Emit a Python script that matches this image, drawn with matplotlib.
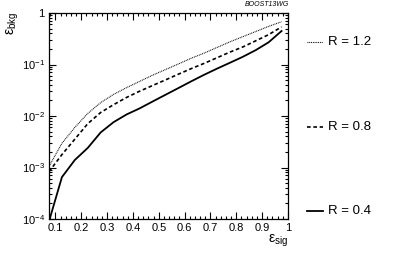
import matplotlib
matplotlib.use('Agg')
import matplotlib.pyplot as plt
import numpy as np
from matplotlib.ticker import MultipleLocator, LogLocator, FixedLocator, FuncFormatter

plt.rcParams['font.family'] = ['Liberation Sans', 'DejaVu Sans']
plt.rcParams['mathtext.fontset'] = 'custom'
plt.rcParams['mathtext.rm'] = 'Liberation Sans'
plt.rcParams['mathtext.it'] = 'Liberation Sans:italic'

# signal efficiency points
eff_sig = [0.075, 0.125, 0.175, 0.225, 0.275, 0.325, 0.375, 0.425, 0.475, 0.525,
           0.575, 0.625, 0.675, 0.725, 0.775, 0.825, 0.875, 0.925, 0.975]

# background efficiency
bkg_r04 = [9.0e-5, 6.5e-4, 1.4e-3, 2.4e-3, 4.8e-3, 7.6e-3, 1.07e-2, 1.4e-2, 1.9e-2, 2.57e-2,
           3.47e-2, 4.7e-2, 6.3e-2, 8.3e-2, 0.108, 0.141, 0.19, 0.27, 0.447]
bkg_r08 = [8.3e-4, 1.78e-3, 3.55e-3, 7.1e-3, 1.17e-2, 1.66e-2, 2.29e-2, 3.02e-2, 3.89e-2, 5.0e-2,
           6.46e-2, 8.3e-2, 0.105, 0.135, 0.174, 0.219, 0.288, 0.38, 0.537]
bkg_r12 = [1.05e-3, 2.95e-3, 6.0e-3, 1.12e-2, 1.82e-2, 2.63e-2, 3.55e-2, 4.68e-2, 6.17e-2, 7.94e-2,
           0.102, 0.132, 0.166, 0.214, 0.275, 0.347, 0.437, 0.55, 0.676]

labels = ['R = 1.2', 'R = 0.8', 'R = 0.4']

fig = plt.figure(figsize=(3.99, 2.54), dpi=100)
ax = fig.add_axes([0.1228, 0.1378, 0.599, 0.811])

ax.plot(eff_sig, bkg_r12, color='black', lw=0.8, ls=(0, (0.8, 0.8)))
ax.plot(eff_sig, bkg_r08, color='black', lw=1.2, ls=(0, (2.2, 1.6)))
ax.plot(eff_sig, bkg_r04, color='black', lw=1.3, ls='-')

ax.set_yscale('log')
ax.set_xlim(0.075, 1.0)
ax.set_ylim(1e-4, 1)

ax.xaxis.set_major_locator(MultipleLocator(0.1))
ax.xaxis.set_minor_locator(MultipleLocator(0.02))
ax.xaxis.set_major_formatter(FuncFormatter(lambda v, p: '%g' % round(v, 2)))
ax.yaxis.set_major_locator(FixedLocator([1e-4, 1e-3, 1e-2, 1e-1, 1]))
ax.yaxis.set_minor_locator(LogLocator(base=10, subs=np.arange(2, 10)))
ylabs = {1e-4: r'10$^{-4}$', 1e-3: r'10$^{-3}$', 1e-2: r'10$^{-2}$', 1e-1: r'10$^{-1}$', 1: '1'}
ax.yaxis.set_major_formatter(FuncFormatter(lambda v, p: ylabs.get(v, '')))

ax.tick_params(which='both', direction='in', top=True, right=True, labelsize=8, width=0.8)
ax.tick_params(which='major', length=5, pad=3)
ax.tick_params(which='minor', length=2.5)
for s in ax.spines.values():
    s.set_linewidth(0.9)

fig.text(0.033, 0.955, r'$\mathrm{ε}_{\mathrm{bkg}}$', rotation=90, ha='center', va='top', fontsize=10)
fig.text(0.722, 0.018, r'$\mathrm{ε}_{\mathrm{sig}}$', ha='right', va='bottom', fontsize=10)
fig.text(0.725, 0.968, 'BOOST13WG', ha='right', va='bottom', fontsize=5, style='italic')

# legend drawn on the right, outside the axes
leg_y = [0.835, 0.5, 0.17]
leg_styles = [dict(lw=0.8, ls=(0, (0.8, 0.8))), dict(lw=1.2, ls=(0, (2.2, 1.6))), dict(lw=1.3, ls='-')]
for lab, yy, st in zip(labels, leg_y, leg_styles):
    fig.add_artist(plt.Line2D([0.77, 0.81], [yy, yy], color='black', transform=fig.transFigure, **st))
    fig.text(0.822, yy, lab, ha='left', va='center', fontsize=9.5)

fig.savefig('out.png', dpi=100)
